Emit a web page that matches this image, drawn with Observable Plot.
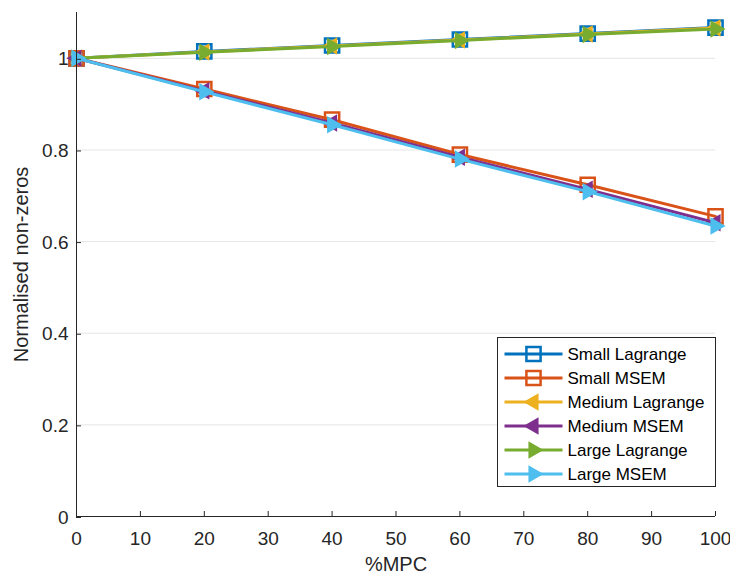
<!DOCTYPE html>
<html>
<head>
<meta charset="utf-8">
<script src="https://cdn.jsdelivr.net/npm/d3@7"></script>
<script src="https://cdn.jsdelivr.net/npm/@observablehq/plot@0.6"></script>
<style>
  html, body { margin: 0; padding: 0; background: #fff; }
  #wrap { position: relative; width: 730px; height: 574px; font-family: "Liberation Sans", Arial, sans-serif; }
  #wrap svg text { font-family: "Liberation Sans", Arial, sans-serif; }
  #legend { position: absolute; left: 0; top: 0; }
</style>
</head>
<body>
<div id="wrap"></div>
<script>
// %MPC sample points and normalised non-zero counts per case
const mpc = [0, 20, 40, 60, 80, 100];
const smallLagrange  = [1, 1.015, 1.028, 1.041, 1.054, 1.067];
const smallMSEM      = [1, 0.933, 0.866, 0.790, 0.724, 0.655];
const mediumLagrange = [1, 1.014, 1.027, 1.040, 1.053, 1.066];
const mediumMSEM     = [1, 0.929, 0.859, 0.784, 0.714, 0.641];
const largeLagrange  = [1, 1.013, 1.026, 1.039, 1.052, 1.064];
const largeMSEM      = [1, 0.927, 0.855, 0.780, 0.709, 0.634];

const seriesNames = ["Small Lagrange", "Small MSEM", "Medium Lagrange", "Medium MSEM", "Large Lagrange", "Large MSEM"];
const xTicks = [0, 10, 20, 30, 40, 50, 60, 70, 80, 90, 100];
const yTicks = [0, 0.2, 0.4, 0.6, 0.8, 1];
const xLabel = "%MPC";
const yLabel = "Normalised non-zeros";

// filled triangles pointing left / right
function triangle(dir) {
  return {
    draw(ctx, size) {
      const s = Math.sqrt(size / (Math.sqrt(3) / 4));
      const h = s * Math.sqrt(3) / 2;
      ctx.moveTo(dir * 2 * h / 3, 0);
      ctx.lineTo(-dir * h / 3, s / 2);
      ctx.lineTo(-dir * h / 3, -s / 2);
      ctx.closePath();
    }
  };
}
const triLeft = triangle(-1), triRight = triangle(1);

const styles = [
  {color: "#0072BD", symbol: "square", hollow: true},
  {color: "#D95319", symbol: "square", hollow: true},
  {color: "#EDB120", symbol: triLeft, hollow: false},
  {color: "#7E2F8E", symbol: triLeft, hollow: false},
  {color: "#77AC30", symbol: triRight, hollow: false},
  {color: "#4DBEEE", symbol: triRight, hollow: false}
];
const values = [smallLagrange, smallMSEM, mediumLagrange, mediumMSEM, largeLagrange, largeMSEM];

const series = seriesNames.map((name, i) => ({
  name, ...styles[i],
  rows: mpc.map((x, j) => ({x, y: values[i][j]}))
}));

const axisColor = "#262626";
const font = "'Liberation Sans', Arial, sans-serif";
const marks = [
  Plot.ruleY(yTicks.filter(d => d > 0), {stroke: "#e5e5e5", strokeWidth: 1})
];
for (const s of series) {
  marks.push(Plot.line(s.rows, {x: "x", y: "y", stroke: s.color, strokeWidth: 3}));
  if (s.hollow) {
    marks.push(Plot.dot(s.rows, {x: "x", y: "y", symbol: () => s.symbol, r: 8, stroke: s.color, strokeWidth: 2.5, fill: "none"}));
  } else {
    marks.push(Plot.dot(s.rows, {x: "x", y: "y", symbol: () => s.symbol, r: 6.5, fill: s.color, stroke: "none"}));
  }
}
marks.push(
  Plot.ruleX([0], {stroke: axisColor, strokeWidth: 1}),
  Plot.ruleY([0], {stroke: axisColor, strokeWidth: 1}),
  Plot.axisX({ticks: xTicks, tickSize: -5, tickPadding: 20, tickFormat: d => String(d),
    label: null, color: axisColor, fontSize: 19}),
  Plot.axisY({ticks: yTicks, tickSize: -5, tickPadding: 13, tickFormat: d => String(d),
    label: null, color: axisColor, fontSize: 19, dy: 1}),
  Plot.text([xLabel], {frameAnchor: "bottom", dy: 54, lineAnchor: "bottom", fontSize: 20, fill: axisColor}),
  Plot.text([yLabel], {frameAnchor: "left", dx: -63, rotate: -90, textAnchor: "middle", lineAnchor: "top", fontSize: 20, fill: axisColor})
);

const chart = Plot.plot({
  width: 730,
  height: 574,
  marginLeft: 76,
  marginRight: 15,
  marginTop: 12,
  marginBottom: 58,
  style: {fontFamily: font, fontSize: "19px", color: axisColor, background: "#fff"},
  x: {domain: [0, 100]},
  y: {domain: [0, 1.1]},
  symbol: {type: "identity"},
  marks
});
document.getElementById("wrap").appendChild(chart);

// legend box in the lower right of the axes
const legend = d3.select("#wrap").append("svg")
  .attr("id", "legend").attr("width", 730).attr("height", 574)
  .style("font-family", font);
const lx = 497.5, ly = 337.5, lw = 218, lh = 149, rowH = 24;
legend.append("rect").attr("x", lx).attr("y", ly).attr("width", lw).attr("height", lh)
  .attr("fill", "#fff").attr("stroke", axisColor).attr("stroke-width", 1);
series.forEach((s, i) => {
  const cy = ly + 16.5 + i * rowH;
  const g = legend.append("g");
  g.append("line").attr("x1", lx + 7).attr("x2", lx + 65).attr("y1", cy).attr("y2", cy)
    .attr("stroke", s.color).attr("stroke-width", 3);
  const sym = s.symbol === "square" ? d3.symbolSquare : s.symbol;
  const r = s.hollow ? 8 : 6.5;
  g.append("path").attr("d", d3.symbol(sym, Math.PI * r * r)())
    .attr("transform", `translate(${lx + 36},${cy})`)
    .attr("fill", s.hollow ? "none" : s.color)
    .attr("stroke", s.hollow ? s.color : "none").attr("stroke-width", 2.5);
  g.append("text").attr("x", lx + 70).attr("y", cy).attr("dy", "0.35em")
    .attr("font-size", 17).attr("fill", "#000").text(s.name);
});
</script>
</body>
</html>
